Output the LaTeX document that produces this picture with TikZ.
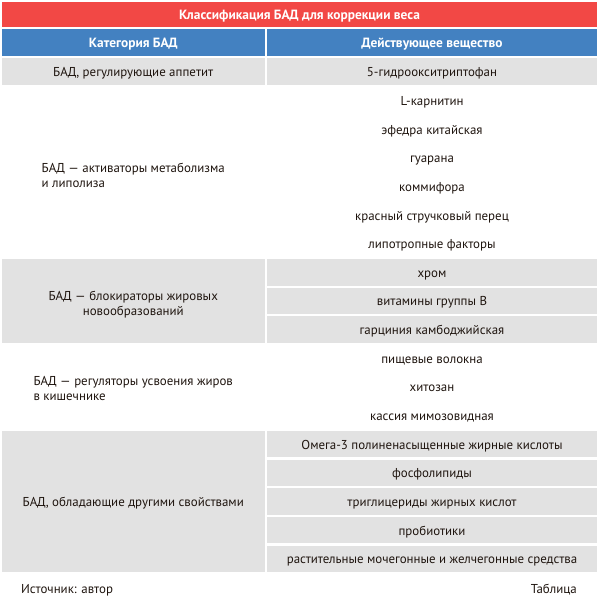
\documentclass[tikz,border=0pt]{standalone}
\usepackage{fontspec}
\setmainfont{PT Sans}

\definecolor{titlered}{HTML}{F24845}
\definecolor{headblue}{HTML}{4381C1}
\definecolor{cellgray}{HTML}{E2E2E2}
\definecolor{inkbrown}{HTML}{1F150F}

\tikzstyle{cell} = [inner sep=0pt, text=inkbrown, align=center, text height=10.5pt, text depth=0.5pt, font=\fontsize{12.9}{15}\selectfont]
\tikzstyle{grey} = [cell, fill=cellgray]
\tikzstyle{plain} = [cell]
\tikzstyle{twoline} = [text height=29pt]
\tikzstyle{head} = [inner sep=0pt, text=white, text height=10.5pt, text depth=0.5pt, font=\fontsize{13.4}{15}\selectfont\bfseries]
\tikzstyle{note} = [inner sep=0pt, text=inkbrown, font=\fontsize{12.9}{15}\selectfont]

\begin{document}
\begin{tikzpicture}[x=1pt,y=-1pt]

    \useasboundingbox [fill=white] (0,0) rectangle (600,604);

    % headers
    \node[head, fill=titlered, minimum width=595pt, minimum height=25.5pt] (title) at (299.5,14.75) {Классификация БАД для коррекции веса};
    \node[head, fill=headblue, minimum width=262.5pt, minimum height=26.5pt] (hcat) at (133.25,42.75) {Категория БАД};
    \node[head, fill=headblue, minimum width=330pt, minimum height=26.5pt] (hsub) at (432,42.75) {Действующее вещество};

    % right column, one row per substance
    \foreach \txt/\sty [count=\i from 0] in {5-гидроокситриптофан/grey,
        L-карнитин/plain, эфедра китайская/plain, гуарана/plain, коммифора/plain,
        красный стручковый перец/plain, липотропные факторы/plain,
        хром/grey, витамины группы B/grey, гарциния камбоджийская/grey,
        пищевые волокна/plain, хитозан/plain, кассия мимозовидная/plain,
        Омега-3 полиненасыщенные жирные кислоты/grey, фосфолипиды/grey,
        триглицериды жирных кислот/grey, пробиотики/grey,
        растительные мочегонные и желчегонные средства/grey}
    {
        \node[\sty, minimum width=330pt, minimum height=26.5pt] (sub\i) at (432,71.75+\i*28.65) {\txt};
    }

    % left column, categories
    \node[grey, minimum width=262.5pt, minimum height=26.5pt] (cat1) at (133.25,71.75) {БАД, регулирующие аппетит};
    \node[plain, twoline, minimum width=262.5pt, minimum height=169.75pt, align=left] (cat2) at (133.25,173.5) {БАД — активаторы метаболизма\\и липолиза};
    \node[grey, twoline, minimum width=262.5pt, minimum height=83.45pt] (cat3) at (133.25,300.8) {БАД — блокираторы жировых\\новообразований};
    \node[plain, twoline, minimum width=262.5pt, minimum height=83.45pt, align=left] (cat4) at (133.25,386.7) {БАД — регуляторы усвоения жиров\\в кишечнике};
    \node[grey, minimum width=262.5pt, minimum height=141.05pt] (cat5) at (133.25,501.5) {БАД, обладающие другими свойствами};

    % footer
    \node[note, anchor=west] (src) at (21,590) {Источник: автор};
    \node[note, anchor=east] (tab) at (577,590) {Таблица};

\end{tikzpicture}
\end{document}
